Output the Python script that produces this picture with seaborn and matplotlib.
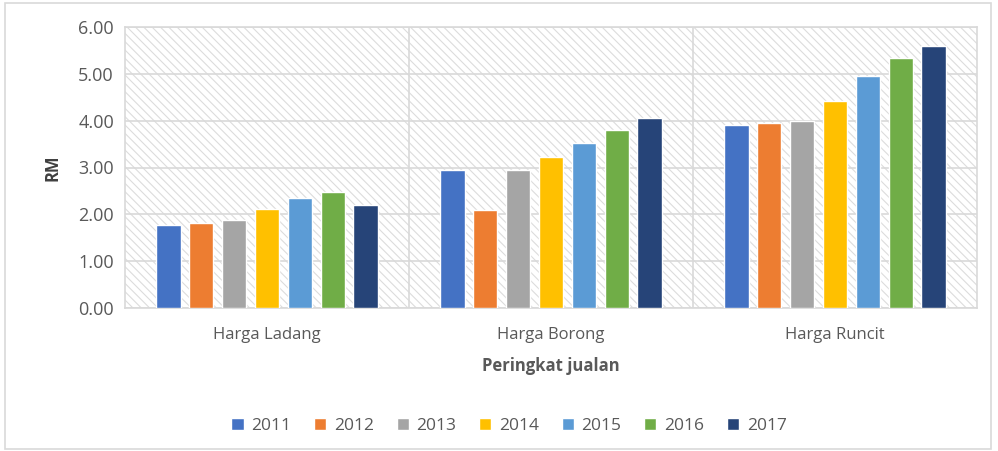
import pandas as pd
import matplotlib.pyplot as plt
import matplotlib.patches as mpatches
import seaborn as sns

# data
kategori = ["Harga Ladang", "Harga Borong", "Harga Runcit"]
tahun = ["2011", "2012", "2013", "2014", "2015", "2016", "2017"]
harga_ladang = [1.77, 1.81, 1.87, 2.12, 2.34, 2.48, 2.19]
harga_borong = [2.94, 2.09, 2.94, 3.23, 3.52, 3.80, 4.05]
harga_runcit = [3.91, 3.95, 3.99, 4.42, 4.95, 5.34, 5.60]
warna = ["#4472C4", "#ED7D31", "#A5A5A5", "#FFC000", "#5B9BD5", "#70AD47", "#264478"]

rows = []
for kat, vals in zip(kategori, [harga_ladang, harga_borong, harga_runcit]):
    for th, v in zip(tahun, vals):
        rows.append({"kategori": kat, "tahun": th, "harga": v})
df = pd.DataFrame(rows)

sns.set_style("white")
plt.rcParams['font.family'] = ['Open Sans', 'DejaVu Sans']
plt.rcParams['hatch.color'] = '#DCDCDC'
plt.rcParams['hatch.linewidth'] = 0.8

fig = plt.figure(figsize=(9.98, 4.51), dpi=100)
ax = fig.add_axes([125/998, 1 - 308/451, (977-125)/998, (308-27)/451])

# hatched background
bg = mpatches.Rectangle((0, 0), 1, 1, transform=ax.transAxes, facecolor='white',
                        edgecolor='#DCDCDC', hatch='\\\\\\\\', linewidth=0, zorder=0)
ax.add_patch(bg)

sns.barplot(data=df, x="kategori", y="harga", hue="tahun", palette=warna,
            width=0.81, gap=0.26, ax=ax, zorder=3, saturation=1, legend=True)

ax.set_ylim(0, 6)
ax.set_yticks([0, 1, 2, 3, 4, 5, 6])
ax.set_yticklabels([f"{v:.2f}" for v in range(7)])
ax.set_xlim(-0.5, 2.5)
ax.yaxis.grid(True, color='#D9D9D9', linewidth=1.2, zorder=1)
ax.set_axisbelow(True)
for xv in [0.5, 1.5]:
    ax.axvline(xv, color='#D9D9D9', linewidth=1.2, zorder=1)
for s in ax.spines.values():
    s.set_color('#D9D9D9')
    s.set_linewidth(1.2)
ax.tick_params(axis='both', length=0, colors='#595959')
ax.tick_params(axis='y', pad=8, labelsize=13)
ax.tick_params(axis='x', pad=14, labelsize=12)
ax.set_xlabel("Peringkat jualan", fontsize=12, fontweight='bold', color='#595959', labelpad=10)
ax.set_ylabel("RM", fontsize=12, fontweight='bold', color='#404040', labelpad=12)

handles, labels = ax.get_legend_handles_labels()
ax.get_legend().remove()
fig.legend(handles, labels, loc='center', bbox_to_anchor=(509/998, 1 - 426/451), ncol=7,
           frameon=False, fontsize=12.5, handlelength=0.7, handleheight=0.7,
           handletextpad=0.45, columnspacing=1.3, labelcolor='#595959')

# outer border
fig.patches.append(mpatches.Rectangle((5/998, 2/451), 986/998, 446/451, transform=fig.transFigure,
                                      fill=False, edgecolor='#D9D9D9', linewidth=1.2))

fig.savefig("out.png", dpi=100)
